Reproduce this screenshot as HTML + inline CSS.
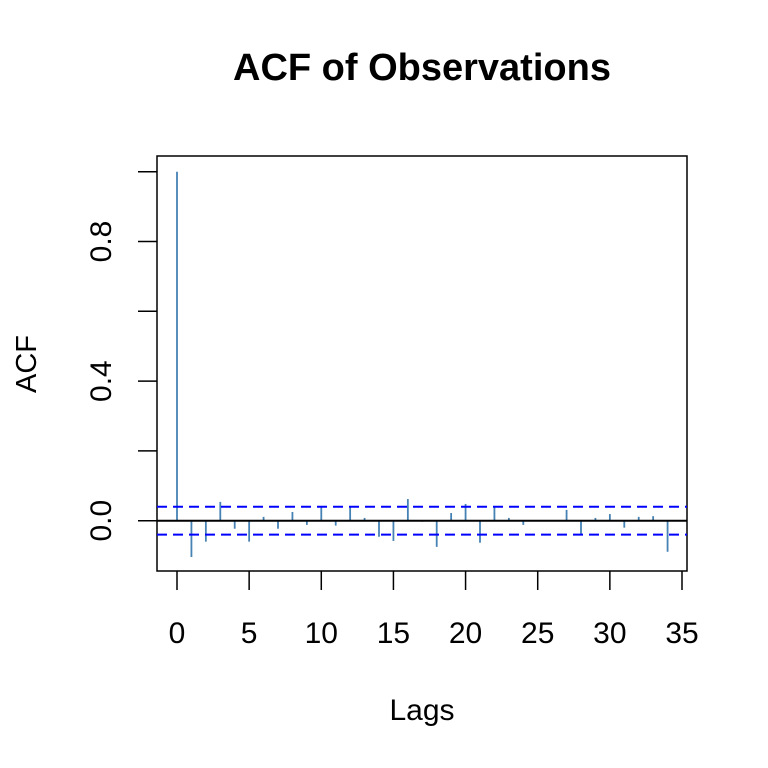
<!DOCTYPE html>
<html><head><meta charset="utf-8"><style>body{margin:0;background:#fff}svg{display:block}text{font-family:"Liberation Sans",Arial,sans-serif}</style></head>
<body>
<svg width="768" height="768" id="chart">
<text x="422" y="80" font-size="38" font-weight="bold" text-anchor="middle">ACF of Observations</text>
<text x="422" y="720" font-size="30" text-anchor="middle">Lags</text>
<text transform="translate(36,364) rotate(-90)" font-size="29" text-anchor="middle">ACF</text>
<rect x="157" y="156" width="530" height="415" fill="none" stroke="#000" stroke-width="1.5"/>
<g id="marks"></g>
</svg>
<script>
const lags=[0,1,2,3,4,5,6,7,8,9,10,11,12,13,14,15,16,17,18,19,20,21,22,23,24,25,26,27,28,29,30,31,32,33,34];
const acfValues=[1,-0.104,-0.060,0.054,-0.023,-0.060,0.011,-0.023,0.025,-0.012,0.038,-0.014,0.038,0.008,-0.046,-0.058,0.062,-0.003,-0.075,0.022,0.048,-0.063,0.038,0.008,-0.012,0.002,0.001,0.031,-0.040,0.008,0.019,-0.020,0.011,0.013,-0.089];
const confBound=0.040;
const xTicks=[0,5,10,15,20,25,30,35];
const yTicks=[0,0.2,0.4,0.6,0.8,1.0];
const yLabels=[0,0.4,0.8];
const ns="http://www.w3.org/2000/svg";
const X=v=>177+v*(505/35);
const Y=v=>520.7-v*349;
const g=document.getElementById('marks');
function mk(t,a){const e=document.createElementNS(ns,t);for(const k in a)e.setAttribute(k,a[k]);g.appendChild(e);return e;}
lags.forEach((l,i)=>{const e=mk('line',{x1:X(l),x2:X(l),y1:Y(0),y2:Y(acfValues[i]),stroke:'#4682b4','stroke-width':1.8});

});
let z=mk('line',{x1:157,x2:687,y1:Y(0),y2:Y(0),stroke:'#000','stroke-width':2});


[confBound,-confBound].forEach((c,i)=>{const e=mk('line',{x1:157,x2:687,y1:Y(c),y2:Y(c),stroke:'#0000ff','stroke-width':2,'stroke-dasharray':'10,6'});

});
xTicks.forEach(t=>{const e=mk('line',{x1:X(t),x2:X(t),y1:571,y2:590,stroke:'#000','stroke-width':1.5});


const tx=mk('text',{x:X(t),y:643,'font-size':30,'text-anchor':'middle'});tx.textContent=t;

});
yTicks.forEach(t=>{const e=mk('line',{x1:138,x2:157,y1:Y(t),y2:Y(t),stroke:'#000','stroke-width':1.5});

});
yLabels.forEach(t=>{const tx=mk('text',{transform:`translate(111,${Y(t)}) rotate(-90)`,'font-size':30,'text-anchor':'middle'});tx.textContent=t.toFixed(1);

});
</script>
</body></html>
